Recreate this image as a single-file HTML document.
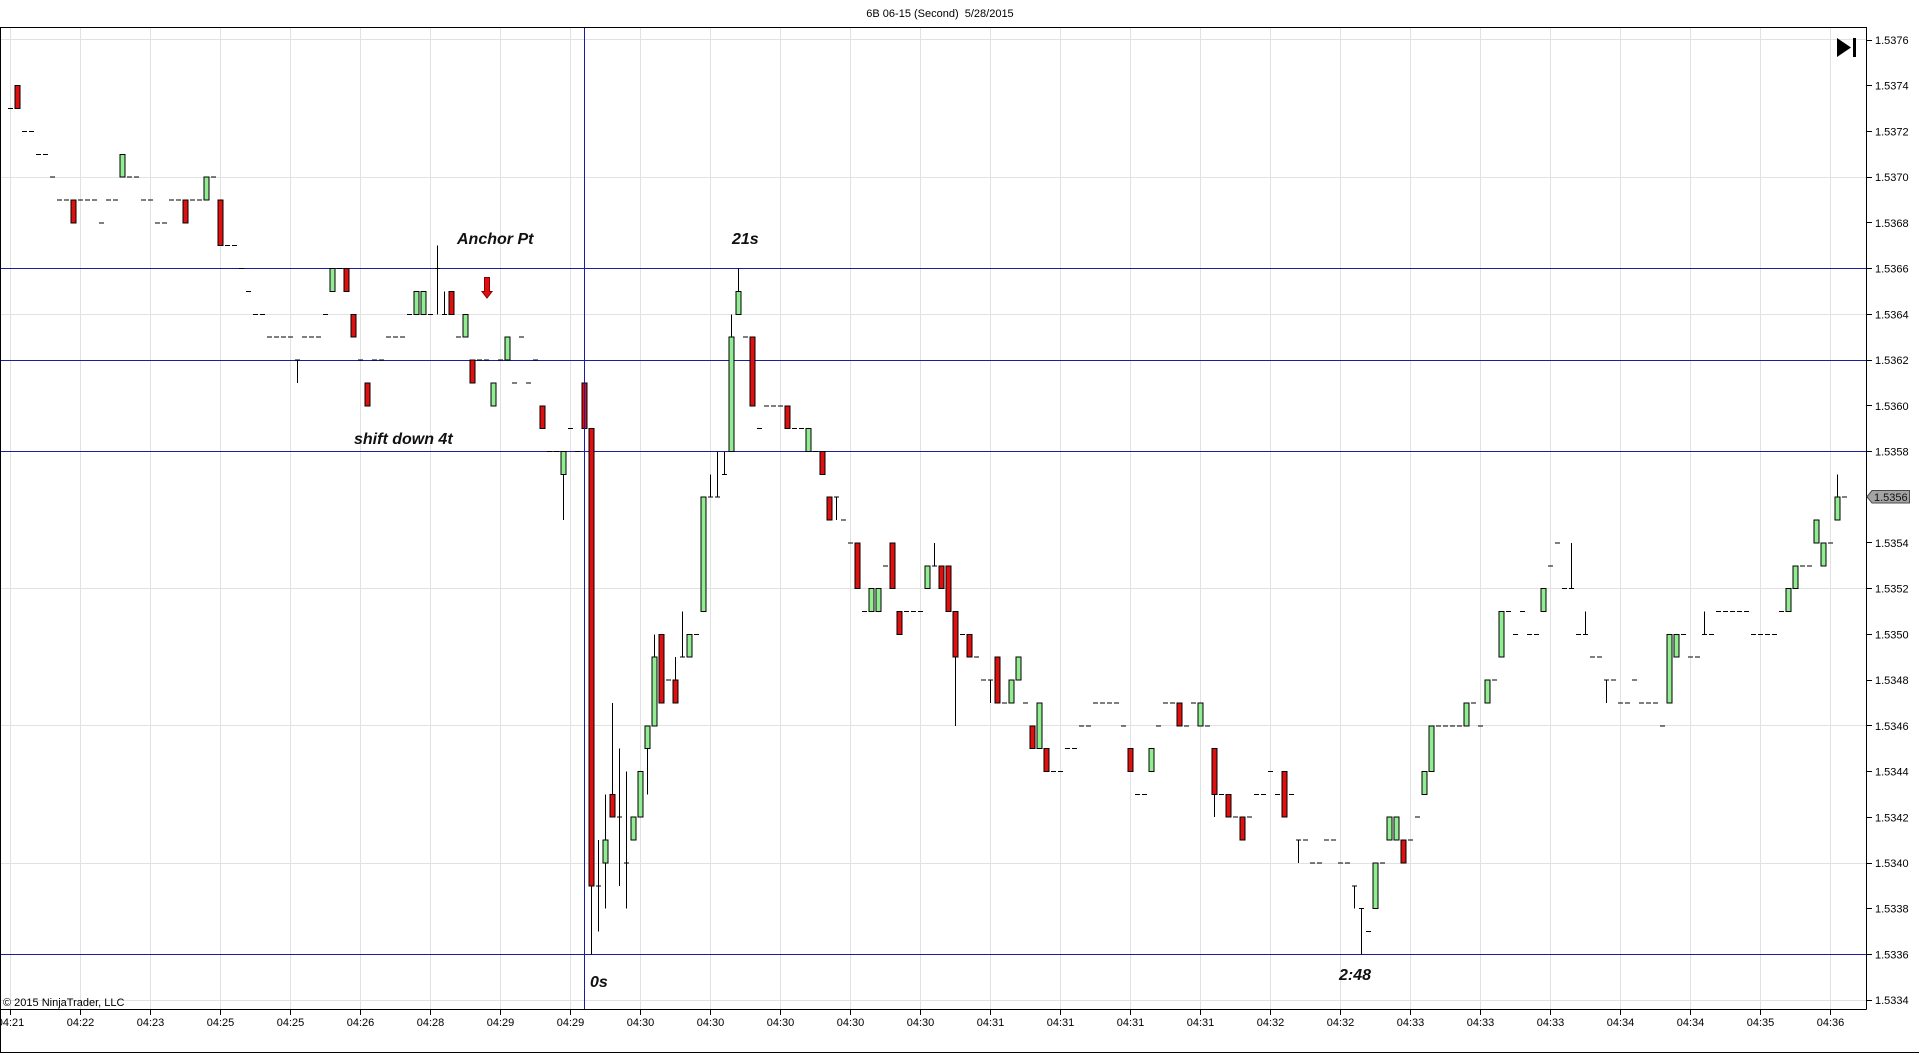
<!DOCTYPE html>
<html><head><meta charset="utf-8"><style>
html,body{margin:0;padding:0;background:#fff;}
svg{display:block;}
text{font-family:"Liberation Sans",Arial,sans-serif;}
.b path,.b rect{vector-effect:non-scaling-stroke;}
.ann{font-weight:bold;font-style:italic;font-size:16px;fill:#111;}
</style></head><body>
<svg width="1920" height="1055" xmlns="http://www.w3.org/2000/svg">
<defs><clipPath id="xc"><rect x="1" y="1009" width="1900" height="40"/></clipPath></defs>
<rect width="1920" height="1055" fill="#fff"/>
<text x="940" y="17" font-size="11" text-anchor="middle" fill="#000" style="white-space:pre">6B 06-15 (Second)  5/28/2015</text>

<!-- grid -->
<path fill="none" stroke="#e2e2e2" stroke-width="1" d="M10.5 28V1009M80.5 28V1009M150.5 28V1009M220.5 28V1009M290.5 28V1009M360.5 28V1009M430.5 28V1009M500.5 28V1009M570.5 28V1009M640.5 28V1009M710.5 28V1009M780.5 28V1009M850.5 28V1009M920.5 28V1009M990.5 28V1009M1060.5 28V1009M1130.5 28V1009M1200.5 28V1009M1270.5 28V1009M1340.5 28V1009M1410.5 28V1009M1480.5 28V1009M1550.5 28V1009M1620.5 28V1009M1690.5 28V1009M1760.5 28V1009M1830.5 28V1009M1 39.5H1866M1 177.5H1866M1 314.5H1866M1 451.5H1866M1 588.5H1866M1 725.5H1866M1 863.5H1866M1 1000.5H1866"/>

<!-- horizontal drawing lines (behind bars) -->
<path fill="none" stroke="#1c1ca0" stroke-width="1" d="M1 268.5H1866M1 360.5H1866M1 451.5H1866M1 954.5H1866"/>

<!-- bars -->
<g class="b" transform="translate(10.5 1777.36) scale(7 -22.86)" shape-rendering="crispEdges">
<path fill="none" stroke="#000" stroke-width="1" d="M41 62V61M61 67V64M62 65V64M79 57V55M83 39V36M84 41V37M85 43V38M86 47V43M87 45V39M88 44V38M91 45V43M92 50V49M95 49V48M96 51V49M100 57V56M101 58V56M102 58V57M103 64V63M104 66V65M118 56V55M132 54V53M135 49V46M140 48V47M172 43V42M184 41V40M192 39V38M193 38V36M223 54V52M225 51V50M228 48V47M242 51V50M261 57V56"/>
<path fill="none" stroke="#000" stroke-width="1" d="M-.36 73h.72M1.64 72h.72M2.64 72h.72M3.64 71h.72M4.64 71h.72M5.64 70h.72M6.64 69h.72M7.64 69h.72M9.64 69h.72M10.64 69h.72M11.64 69h.72M12.64 68h.72M13.64 69h.72M14.64 69h.72M16.64 70h.72M17.64 70h.72M18.64 69h.72M19.64 69h.72M20.64 68h.72M21.64 68h.72M22.64 69h.72M23.64 69h.72M25.64 69h.72M26.64 69h.72M28.64 70h.72M30.64 67h.72M31.64 67h.72M32.64 66h.72M33.64 65h.72M34.64 64h.72M35.64 64h.72M36.64 63h.72M37.64 63h.72M38.64 63h.72M39.64 63h.72M40.64 62h.72M41.64 63h.72M42.64 63h.72M43.64 63h.72M44.64 64h.72M46.64 66h.72M49.64 62h.72M51.64 62h.72M52.64 62h.72M53.64 63h.72M54.64 63h.72M55.64 63h.72M56.64 64h.72M59.64 64h.72M60.64 66h.72M61.64 64h.72M63.64 63h.72M66.64 62h.72M67.64 62h.72M69.64 62h.72M71.64 61h.72M72.64 63h.72M73.64 61h.72M74.64 62h.72M76.64 58h.72M77.64 58h.72M79.64 59h.72M80.64 58h.72M83.64 39h.72M86.64 42h.72M87.64 40h.72M93.64 48h.72M95.64 49h.72M97.64 50h.72M99.64 56h.72M100.64 56h.72M101.64 57h.72M104.64 63h.72M106.64 59h.72M107.64 60h.72M108.64 60h.72M109.64 60h.72M111.64 59h.72M112.64 59h.72M114.64 58h.72M117.64 56h.72M118.64 55h.72M119.64 54h.72M121.64 51h.72M124.64 53h.72M127.64 51h.72M128.64 51h.72M129.64 51h.72M131.64 53h.72M135.64 50h.72M137.64 49h.72M138.64 48h.72M139.64 48h.72M141.64 47h.72M144.64 47h.72M148.64 44h.72M149.64 44h.72M150.64 45h.72M151.64 45h.72M152.64 46h.72M153.64 46h.72M154.64 47h.72M155.64 47h.72M156.64 47h.72M157.64 47h.72M158.64 46h.72M160.64 43h.72M161.64 43h.72M163.64 46h.72M164.64 47h.72M165.64 47h.72M167.64 46h.72M168.64 47h.72M170.64 46h.72M172.64 43h.72M174.64 42h.72M176.64 42h.72M177.64 43h.72M178.64 43h.72M179.64 44h.72M180.64 43h.72M182.64 43h.72M183.64 41h.72M184.64 41h.72M185.64 40h.72M186.64 40h.72M187.64 41h.72M188.64 41h.72M189.64 40h.72M190.64 40h.72M191.64 39h.72M192.64 38h.72M193.64 37h.72M195.64 40h.72M199.64 41h.72M200.64 42h.72M203.64 46h.72M204.64 46h.72M205.64 46h.72M206.64 46h.72M208.64 47h.72M209.64 46h.72M211.64 48h.72M213.64 51h.72M214.64 50h.72M215.64 51h.72M216.64 50h.72M217.64 50h.72M219.64 53h.72M220.64 54h.72M221.64 52h.72M222.64 52h.72M223.64 50h.72M224.64 50h.72M225.64 49h.72M226.64 49h.72M227.64 48h.72M228.64 48h.72M229.64 47h.72M230.64 47h.72M231.64 48h.72M232.64 47h.72M233.64 47h.72M234.64 47h.72M235.64 46h.72M238.64 50h.72M239.64 49h.72M240.64 49h.72M241.64 50h.72M242.64 50h.72M243.64 51h.72M244.64 51h.72M245.64 51h.72M246.64 51h.72M247.64 51h.72M248.64 50h.72M249.64 50h.72M250.64 50h.72M251.64 50h.72M252.64 51h.72M255.64 53h.72M256.64 53h.72M259.64 54h.72M261.64 56h.72"/>
<g fill="#e01010" stroke="#000" stroke-width="1">
<rect x="0.64" y="73" width="0.72" height="1"/>
<rect x="8.64" y="68" width="0.72" height="1"/>
<rect x="24.64" y="68" width="0.72" height="1"/>
<rect x="29.64" y="67" width="0.72" height="2"/>
<rect x="47.64" y="65" width="0.72" height="1"/>
<rect x="48.64" y="63" width="0.72" height="1"/>
<rect x="50.64" y="60" width="0.72" height="1"/>
<rect x="62.64" y="64" width="0.72" height="1"/>
<rect x="65.64" y="61" width="0.72" height="1"/>
<rect x="75.64" y="59" width="0.72" height="1"/>
<rect x="81.64" y="59" width="0.72" height="2"/>
<rect x="82.64" y="39" width="0.72" height="20"/>
<rect x="85.64" y="42" width="0.72" height="1"/>
<rect x="92.64" y="47" width="0.72" height="3"/>
<rect x="94.64" y="47" width="0.72" height="1"/>
<rect x="105.64" y="60" width="0.72" height="3"/>
<rect x="110.64" y="59" width="0.72" height="1"/>
<rect x="115.64" y="57" width="0.72" height="1"/>
<rect x="116.64" y="55" width="0.72" height="1"/>
<rect x="120.64" y="52" width="0.72" height="2"/>
<rect x="125.64" y="52" width="0.72" height="2"/>
<rect x="126.64" y="50" width="0.72" height="1"/>
<rect x="132.64" y="52" width="0.72" height="1"/>
<rect x="133.64" y="51" width="0.72" height="2"/>
<rect x="134.64" y="49" width="0.72" height="2"/>
<rect x="136.64" y="49" width="0.72" height="1"/>
<rect x="140.64" y="47" width="0.72" height="2"/>
<rect x="145.64" y="45" width="0.72" height="1"/>
<rect x="147.64" y="44" width="0.72" height="1"/>
<rect x="159.64" y="44" width="0.72" height="1"/>
<rect x="166.64" y="46" width="0.72" height="1"/>
<rect x="171.64" y="43" width="0.72" height="2"/>
<rect x="173.64" y="42" width="0.72" height="1"/>
<rect x="175.64" y="41" width="0.72" height="1"/>
<rect x="181.64" y="42" width="0.72" height="2"/>
<rect x="198.64" y="40" width="0.72" height="1"/>
</g>
<g fill="#92ec92" stroke="#000" stroke-width="1">
<rect x="15.64" y="70" width="0.72" height="1"/>
<rect x="27.64" y="69" width="0.72" height="1"/>
<rect x="45.64" y="65" width="0.72" height="1"/>
<rect x="57.64" y="64" width="0.72" height="1"/>
<rect x="58.64" y="64" width="0.72" height="1"/>
<rect x="64.64" y="63" width="0.72" height="1"/>
<rect x="68.64" y="60" width="0.72" height="1"/>
<rect x="70.64" y="62" width="0.72" height="1"/>
<rect x="78.64" y="57" width="0.72" height="1"/>
<rect x="84.64" y="40" width="0.72" height="1"/>
<rect x="88.64" y="41" width="0.72" height="1"/>
<rect x="89.64" y="42" width="0.72" height="2"/>
<rect x="90.64" y="45" width="0.72" height="1"/>
<rect x="91.64" y="46" width="0.72" height="3"/>
<rect x="96.64" y="49" width="0.72" height="1"/>
<rect x="98.64" y="51" width="0.72" height="5"/>
<rect x="102.64" y="58" width="0.72" height="5"/>
<rect x="103.64" y="64" width="0.72" height="1"/>
<rect x="113.64" y="58" width="0.72" height="1"/>
<rect x="122.64" y="51" width="0.72" height="1"/>
<rect x="123.64" y="51" width="0.72" height="1"/>
<rect x="130.64" y="52" width="0.72" height="1"/>
<rect x="142.64" y="47" width="0.72" height="1"/>
<rect x="143.64" y="48" width="0.72" height="1"/>
<rect x="146.64" y="45" width="0.72" height="2"/>
<rect x="162.64" y="44" width="0.72" height="1"/>
<rect x="169.64" y="46" width="0.72" height="1"/>
<rect x="194.64" y="38" width="0.72" height="2"/>
<rect x="196.64" y="41" width="0.72" height="1"/>
<rect x="197.64" y="41" width="0.72" height="1"/>
<rect x="201.64" y="43" width="0.72" height="1"/>
<rect x="202.64" y="44" width="0.72" height="2"/>
<rect x="207.64" y="46" width="0.72" height="1"/>
<rect x="210.64" y="47" width="0.72" height="1"/>
<rect x="212.64" y="49" width="0.72" height="2"/>
<rect x="218.64" y="51" width="0.72" height="1"/>
<rect x="236.64" y="47" width="0.72" height="3"/>
<rect x="237.64" y="49" width="0.72" height="1"/>
<rect x="253.64" y="51" width="0.72" height="1"/>
<rect x="254.64" y="52" width="0.72" height="1"/>
<rect x="257.64" y="54" width="0.72" height="1"/>
<rect x="258.64" y="53" width="0.72" height="1"/>
<rect x="260.64" y="55" width="0.72" height="1"/>
</g>
</g>

<!-- vertical drawing line -->
<path fill="none" stroke="#1c1ca0" stroke-width="1" d="M584.5 28V1009"/>

<!-- red arrow -->
<path d="M484.5 277.5H489.5V291.5H492L487 298L482 291.5H484.5Z" fill="#e01010" stroke="#8a0000" stroke-width="1"/>

<!-- annotations -->
<text class="ann" x="457" y="244">Anchor Pt</text>
<text class="ann" x="732" y="244">21s</text>
<text class="ann" x="354" y="444">shift down 4t</text>
<text class="ann" x="590" y="987">0s</text>
<text class="ann" x="1339" y="980">2:48</text>

<!-- icon -->
<path d="M1837 38L1851 47.5L1837 57Z" fill="#000"/>
<rect x="1853" y="38" width="3" height="19" fill="#000"/>

<!-- frame -->
<path fill="none" stroke="#000" stroke-width="1" d="M0.5 27.5H1866.5M0.5 27V1053M1866.5 27V1009.5M0 1009.5H1866.5M0 1052.5H1919"/>

<!-- y ticks -->
<path fill="none" stroke="#000" stroke-width="1" d="M1866 40.5h6M1866 85.5h6M1866 131.5h6M1866 177.5h6M1866 222.5h6M1866 268.5h6M1866 314.5h6M1866 360.5h6M1866 405.5h6M1866 451.5h6M1866 497.5h6M1866 542.5h6M1866 588.5h6M1866 634.5h6M1866 680.5h6M1866 725.5h6M1866 771.5h6M1866 817.5h6M1866 863.5h6M1866 908.5h6M1866 954.5h6M1866 1000.5h6"/>
<g font-size="11" fill="#000">
<text x="1875" y="44">1.5376</text>
<text x="1875" y="89.7">1.5374</text>
<text x="1875" y="135.4">1.5372</text>
<text x="1875" y="181.2">1.5370</text>
<text x="1875" y="226.9">1.5368</text>
<text x="1875" y="272.6">1.5366</text>
<text x="1875" y="318.3">1.5364</text>
<text x="1875" y="364">1.5362</text>
<text x="1875" y="409.8">1.5360</text>
<text x="1875" y="455.5">1.5358</text>
<text x="1875" y="546.9">1.5354</text>
<text x="1875" y="592.6">1.5352</text>
<text x="1875" y="638.4">1.5350</text>
<text x="1875" y="684.1">1.5348</text>
<text x="1875" y="729.8">1.5346</text>
<text x="1875" y="775.5">1.5344</text>
<text x="1875" y="821.3">1.5342</text>
<text x="1875" y="867">1.5340</text>
<text x="1875" y="912.7">1.5338</text>
<text x="1875" y="958.4">1.5336</text>
<text x="1875" y="1004.1">1.5334</text>
</g>

<!-- price marker -->
<path d="M1867 496.7L1872 490.5H1909.5V503H1872Z" fill="#a4a4a4" stroke="#4a4a4a" stroke-width="1"/>
<text x="1874" y="501" font-size="11" fill="#111">1.5356</text>

<!-- x ticks -->
<path fill="none" stroke="#000" stroke-width="1" d="M10.5 1009V1015M80.5 1009V1015M150.5 1009V1015M220.5 1009V1015M290.5 1009V1015M360.5 1009V1015M430.5 1009V1015M500.5 1009V1015M570.5 1009V1015M640.5 1009V1015M710.5 1009V1015M780.5 1009V1015M850.5 1009V1015M920.5 1009V1015M990.5 1009V1015M1060.5 1009V1015M1130.5 1009V1015M1200.5 1009V1015M1270.5 1009V1015M1340.5 1009V1015M1410.5 1009V1015M1480.5 1009V1015M1550.5 1009V1015M1620.5 1009V1015M1690.5 1009V1015M1760.5 1009V1015M1830.5 1009V1015"/>
<g font-size="11" fill="#000" text-anchor="middle" clip-path="url(#xc)">
<text x="10.5" y="1026">04:21</text>
<text x="80.5" y="1026">04:22</text>
<text x="150.5" y="1026">04:23</text>
<text x="220.5" y="1026">04:25</text>
<text x="290.5" y="1026">04:25</text>
<text x="360.5" y="1026">04:26</text>
<text x="430.5" y="1026">04:28</text>
<text x="500.5" y="1026">04:29</text>
<text x="570.5" y="1026">04:29</text>
<text x="640.5" y="1026">04:30</text>
<text x="710.5" y="1026">04:30</text>
<text x="780.5" y="1026">04:30</text>
<text x="850.5" y="1026">04:30</text>
<text x="920.5" y="1026">04:30</text>
<text x="990.5" y="1026">04:31</text>
<text x="1060.5" y="1026">04:31</text>
<text x="1130.5" y="1026">04:31</text>
<text x="1200.5" y="1026">04:31</text>
<text x="1270.5" y="1026">04:32</text>
<text x="1340.5" y="1026">04:32</text>
<text x="1410.5" y="1026">04:33</text>
<text x="1480.5" y="1026">04:33</text>
<text x="1550.5" y="1026">04:33</text>
<text x="1620.5" y="1026">04:34</text>
<text x="1690.5" y="1026">04:34</text>
<text x="1760.5" y="1026">04:35</text>
<text x="1830.5" y="1026">04:36</text>
</g>

<text x="3" y="1006" font-size="11" fill="#000">© 2015 NinjaTrader, LLC</text>
</svg>
</body></html>
